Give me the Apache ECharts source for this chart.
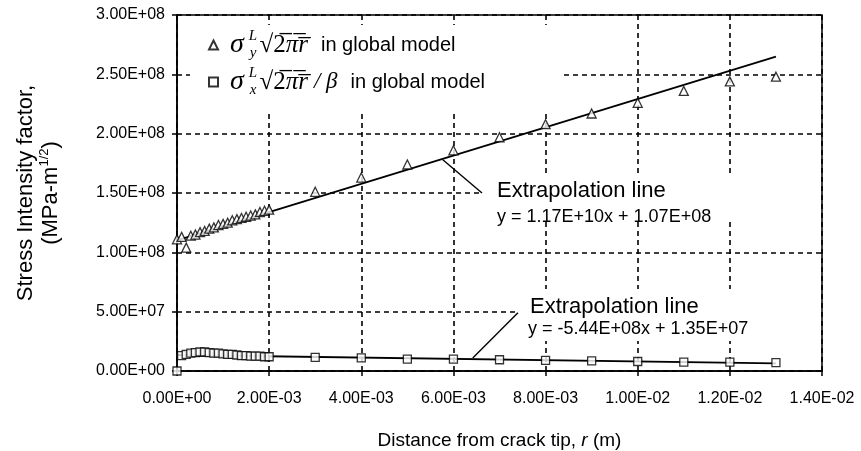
<!DOCTYPE html>
<html>
<head>
<meta charset="utf-8">
<script src="https://cdn.jsdelivr.net/npm/echarts@6/dist/echarts.min.js"></script>
<style>
html,body{margin:0;padding:0;background:#fff;}
#chart{width:861px;height:451px;}
</style>
</head>
<body>
<div id="chart"></div>
<script>
// ---- data ----
const distance = [0, 0.0001, 0.0002, 0.0003, 0.0004, 0.0005, 0.0006, 0.0007, 0.0008, 0.0009,
  0.001, 0.0011, 0.0012, 0.0013, 0.0014, 0.0015, 0.0016, 0.0017, 0.0018, 0.0019, 0.002,
  0.003, 0.004, 0.005, 0.006, 0.007, 0.008, 0.009, 0.01, 0.011, 0.012, 0.013];
const kSigmaY = [1.11e8, 1.13e8, 1.04e8, 1.14e8, 1.15e8, 1.17e8, 1.18e8, 1.20e8, 1.21e8, 1.23e8,
  1.24e8, 1.25e8, 1.27e8, 1.28e8, 1.29e8, 1.30e8, 1.31e8, 1.32e8, 1.34e8, 1.35e8, 1.36e8,
  1.51e8, 1.63e8, 1.74e8, 1.86e8, 1.97e8, 2.08e8, 2.17e8, 2.26e8, 2.36e8, 2.44e8, 2.48e8];
const kSigmaX = [0, 1.3e7, 1.4e7, 1.5e7, 1.55e7, 1.6e7, 1.6e7, 1.55e7, 1.5e7, 1.5e7,
  1.45e7, 1.4e7, 1.4e7, 1.35e7, 1.3e7, 1.3e7, 1.25e7, 1.25e7, 1.25e7, 1.2e7, 1.2e7,
  1.15e7, 1.1e7, 1.0e7, 1.0e7, 9.5e6, 9.0e6, 8.5e6, 8.0e6, 7.5e6, 7.5e6, 7.0e6];
const upperFitR = [0, 0.013];
const upperFitK = [1.10e8, 2.65e8];
const lowerFitR = [0, 0.013];
const lowerFitK = [1.35e7, 6.4e6];
const upperLeaderR = [0.00577, 0.00662];
const upperLeaderK = [1.78e8, 1.50e8];
const lowerLeaderR = [0.00642, 0.0074];
const lowerLeaderK = [1.1e7, 4.9e7];
const xTickMin = 0, xTickMax = 0.014, xTickStep = 0.002;
const yTickMin = 0, yTickMax = 3e8, yTickStep = 5e7;
const upperEquation = ['Extrapolation line', 'y = 1.17E+10x + 1.07E+08'];
const lowerEquation = ['Extrapolation line', 'y = -5.44E+08x + 1.35E+07'];

function pairs(xs, ys) { return xs.map((x, i) => [x, ys[i]]); }
function sci(v) {
  if (v === 0) return '0.00E+00';
  const s = v.toExponential(2).split('e');
  const e = parseInt(s[1], 10);
  const n = Math.abs(e);
  return s[0] + 'E' + (e < 0 ? '-' : '+') + (n < 10 ? '0' : '') + n;
}

const chart = echarts.init(document.getElementById('chart'), null, { renderer: 'canvas' });
const SANS = '"Liberation Sans", Arial, sans-serif';
const SERIF = '"Liberation Serif", "DejaVu Serif", serif';
const OL = '\u0305';

const option = {
  animation: false,
  backgroundColor: '#fff',
  grid: { left: 177, right: 39, top: 15, bottom: 80, outerBoundsMode: 'none', containLabel: false,
    show: true, borderColor: '#000', borderWidth: 1.5, backgroundColor: 'transparent' },
  xAxis: {
    type: 'value', min: xTickMin, max: xTickMax, interval: xTickStep,
    axisLine: { show: true, onZero: false, lineStyle: { color: '#000', width: 1.5 } },
    axisTick: { show: true, length: 5, lineStyle: { color: '#000', width: 1.5 } },
    splitLine: { show: true, lineStyle: { color: '#000', width: 1.6, type: [5, 4] } },
    axisLabel: { formatter: sci, fontSize: 16, color: '#000', fontFamily: SANS, margin: 20 },
    name: 'Distance from crack tip, {i|r} (m)',
    nameLocation: 'middle', nameGap: 60,
    nameTextStyle: { fontSize: 19, color: '#000', fontFamily: SANS,
      rich: { i: { fontSize: 19, fontStyle: 'italic', fontFamily: SANS, color: '#000' } } }
  },
  yAxis: {
    type: 'value', min: yTickMin, max: yTickMax, interval: yTickStep,
    axisLine: { show: true, lineStyle: { color: '#000', width: 1.5 } },
    axisTick: { show: true, length: 5, lineStyle: { color: '#000', width: 1.5 } },
    splitLine: { show: true, lineStyle: { color: '#000', width: 1.6, type: [5, 4] } },
    axisLabel: { formatter: sci, fontSize: 16, color: '#000', fontFamily: SANS, margin: 12 },
    name: 'Stress Intensity factor,\n(MPa-m{sup|1/2})',
    nameLocation: 'middle', nameRotate: 90, nameGap: 114,
    nameTextStyle: { fontSize: 22, color: '#000', fontFamily: SANS, lineHeight: 25, align: 'center',
      rich: { sup: { fontSize: 13, fontFamily: SANS, color: '#000', verticalAlign: 'top', lineHeight: 14 } } }
  },
  legend: {
    data: ['sy', 'sx'],
    orient: 'vertical', left: 190, top: 25,
    padding: [4, 78, 15, 18],
    itemGap: 5, itemWidth: 9, itemHeight: 9,
    backgroundColor: '#fff',
    selectedMode: false,
    align: 'left',
    formatter: function (name) {
      const sub = name === 'sy' ? 'y' : 'x';
      const tail = name === 'sy' ? '' : '{g2|/ β}';
      return '{g|σ}{sup|L}{sub|' + sub + '}{rt|√}{n|2' + OL + '}{it|π' + OL + 'r' + OL + '}' + tail + '{t|in global model}';
    },
    textStyle: {
      color: '#000', fontFamily: SANS, fontSize: 20, lineHeight: 32,
      rich: {
        g: { fontFamily: SERIF, fontStyle: 'italic', fontSize: 28, lineHeight: 32, color: '#000', padding: [0, 5, 0, 7] },
        sup: { fontFamily: SERIF, fontStyle: 'italic', fontSize: 15, lineHeight: 15, verticalAlign: 'top', width: 1, color: '#000' },
        sub: { fontFamily: SERIF, fontStyle: 'italic', fontSize: 15, lineHeight: 15, verticalAlign: 'bottom', color: '#000', padding: [0, 3, 0, 0] },
        rt: { fontFamily: SERIF, fontSize: 25, lineHeight: 32, color: '#000' },
        n: { fontFamily: SERIF, fontSize: 25, lineHeight: 32, color: '#000' },
        it: { fontFamily: SERIF, fontStyle: 'italic', fontSize: 25, lineHeight: 32, color: '#000' },
        g2: { fontFamily: SERIF, fontStyle: 'italic', fontSize: 23, lineHeight: 32, color: '#000', padding: [0, 0, 0, 6] },
        t: { fontFamily: SANS, fontSize: 20, lineHeight: 32, color: '#000', padding: [0, 0, 0, 13] }
      }
    }
  },
  series: [
    { name: 'sy', type: 'scatter', data: pairs(distance, kSigmaY), symbol: 'triangle', symbolSize: 9,
      itemStyle: { color: '#fff', borderColor: '#000', borderWidth: 1.3 }, z: 4 },
    { name: 'sx', type: 'scatter', data: pairs(distance, kSigmaX), symbol: 'rect', symbolSize: 8,
      itemStyle: { color: '#fff', borderColor: '#000', borderWidth: 1.3 }, z: 4 },
    { name: 'fitU', type: 'line', data: pairs(upperFitR, upperFitK), showSymbol: false, silent: true,
      lineStyle: { color: '#000', width: 1.8 }, z: 3 },
    { name: 'fitL', type: 'line', data: pairs(lowerFitR, lowerFitK), showSymbol: false, silent: true,
      lineStyle: { color: '#000', width: 1.8 }, z: 3 },
    { name: 'leadU', type: 'line', data: pairs(upperLeaderR, upperLeaderK), showSymbol: false, silent: true,
      lineStyle: { color: '#000', width: 1.4 }, z: 3 },
    { name: 'leadL', type: 'line', data: pairs(lowerLeaderR, lowerLeaderK), showSymbol: false, silent: true,
      lineStyle: { color: '#000', width: 1.4 }, z: 3 }
  ],
  graphic: [
    { type: 'rect', z: 5, shape: { x: 483, y: 175, width: 338, height: 47 }, style: { fill: '#fff' } },
    { type: 'text', z: 6, x: 497, y: 191, style: { text: upperEquation[0], font: '22px "Liberation Sans", Arial, sans-serif', fill: '#000', verticalAlign: 'middle' } },
    { type: 'text', z: 6, x: 497, y: 217, style: { text: upperEquation[1], font: '18px "Liberation Sans", Arial, sans-serif', fill: '#000', verticalAlign: 'middle' } },
    { type: 'rect', z: 5, shape: { x: 519, y: 289, width: 302, height: 52 }, style: { fill: '#fff' } },
    { type: 'text', z: 6, x: 530, y: 307, style: { text: lowerEquation[0], font: '22px "Liberation Sans", Arial, sans-serif', fill: '#000', verticalAlign: 'middle' } },
    { type: 'text', z: 6, x: 528, y: 329, style: { text: lowerEquation[1], font: '18px "Liberation Sans", Arial, sans-serif', fill: '#000', verticalAlign: 'middle' } }
  ]
};
chart.setOption(option);
</script>
</body>
</html>
